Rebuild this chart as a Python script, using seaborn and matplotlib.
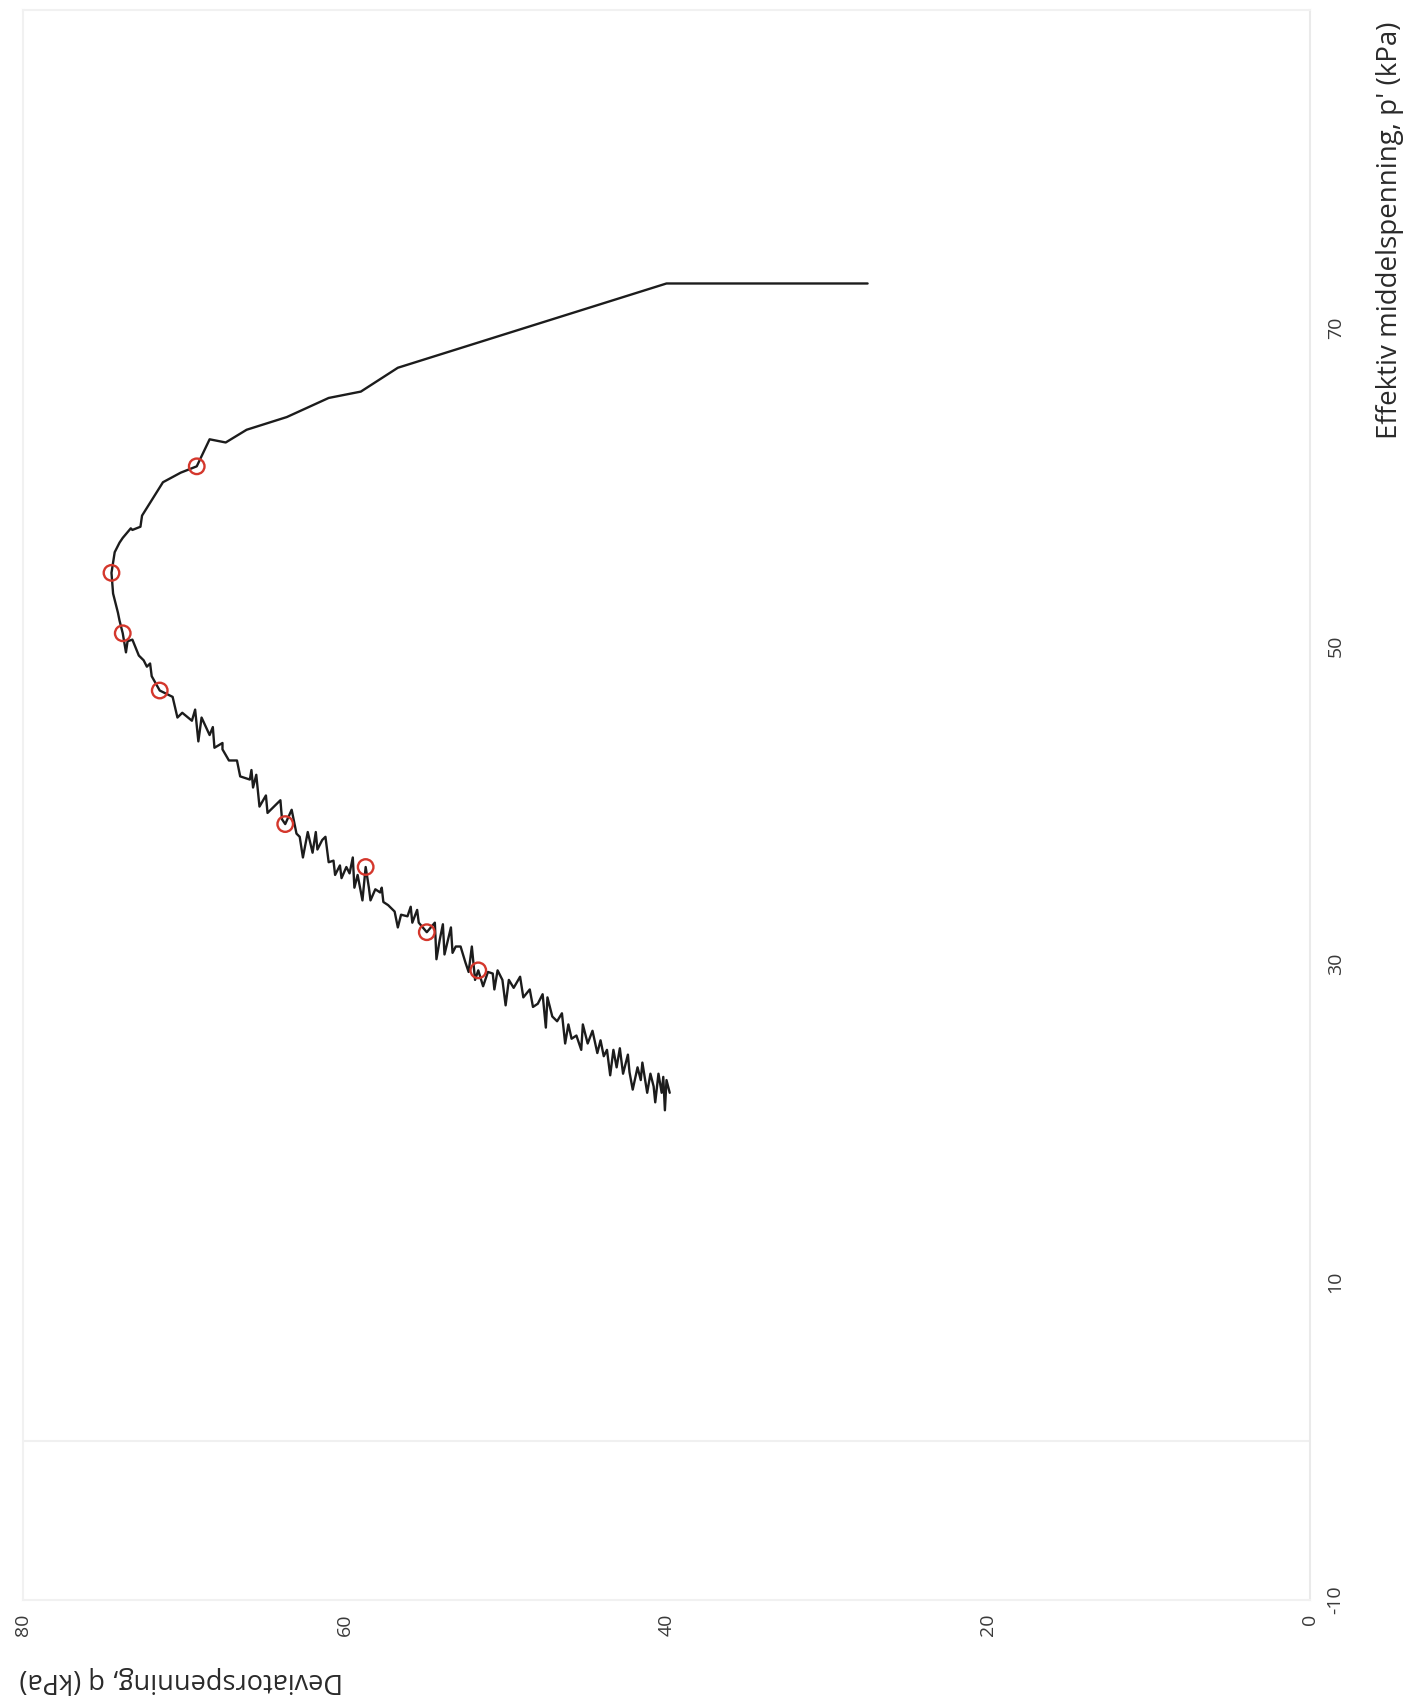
import matplotlib
matplotlib.use("Agg")
import matplotlib.pyplot as plt
import seaborn as sns
import pandas as pd

# Stress path of the triaxial test: deviator stress q and effective mean stress p' (kPa)
q_kpa = [
    27.5, 40.0, 56.7, 59.0, 61.0, 63.6, 66.1, 67.4, 68.4, 69.2,
    70.2, 71.3, 72.1, 72.6, 72.7, 73.2, 73.3, 73.8, 74.0, 74.3,
    74.5, 74.4, 74.1, 74.0, 73.8, 73.6, 73.5, 73.2, 72.8, 72.5,
    72.3, 72.1, 72.0, 71.5,
    70.7, 70.4, 70.1, 69.5, 69.3, 69.1, 68.9, 68.4, 68.2, 68.1,
    67.6, 67.6, 67.2, 66.7, 66.5, 65.9, 65.8, 65.7, 65.5, 65.3,
    64.9, 64.8, 64.4, 64.0, 63.9, 63.7, 63.3, 63.0, 62.8, 62.6,
    62.3, 62.0, 61.8, 61.7, 61.4, 61.2, 61.0, 60.7, 60.6, 60.3,
    60.2, 59.9, 59.7, 59.5, 59.4, 59.2, 58.9, 58.7,
    58.5, 58.4, 58.1, 57.8, 57.7, 57.6, 57.3, 56.9, 56.7, 56.5,
    56.1, 55.9, 55.8, 55.5, 55.4, 54.9, 54.4, 54.3, 54.1, 53.9,
    53.8, 53.4, 53.3, 53.1, 52.8, 52.5, 52.3, 52.1, 51.9, 51.7,
    51.4, 51.1, 50.8, 50.7, 50.5, 50.2, 50.0, 49.8, 49.5, 49.1,
    48.9, 48.5, 48.3, 48.0, 47.7, 47.5, 47.4, 47.1, 46.8, 46.5,
    46.3, 46.1, 45.9, 45.6, 45.3, 45.2, 44.9, 44.6, 44.3, 44.1,
    43.9, 43.7, 43.5, 43.3, 43.1, 42.9, 42.7, 42.4, 42.3, 42.1,
    41.8, 41.6, 41.5, 41.2, 41.0, 40.8, 40.7, 40.5, 40.3, 40.2,
    40.1, 40.0, 39.8,
]
p_kpa = [
    72.8, 72.8, 67.5, 66.0, 65.6, 64.4, 63.6, 62.8, 63.0, 61.3,
    60.9, 60.3, 59.0, 58.2, 57.5, 57.3, 57.4, 56.8, 56.5, 55.9,
    54.6, 53.3, 52.1, 51.6, 50.8, 49.6, 50.3, 50.4, 49.4, 49.1,
    48.7, 48.9, 48.1, 47.2,
    46.8, 45.5, 45.8, 45.3, 46.0, 44.0, 45.5, 44.4, 44.9, 43.6,
    43.9, 43.5, 42.8, 42.8, 41.8, 41.6, 42.2, 41.1, 41.9, 39.9,
    40.6, 39.5, 39.9, 40.3, 39.1, 38.8, 39.7, 38.2, 38.0, 36.7,
    38.3, 37.0, 38.3, 37.2, 37.8, 38.0, 36.4, 36.5, 35.6, 36.2,
    35.4, 36.1, 35.7, 36.7, 34.8, 35.6, 34.0, 36.1,
    34.8, 34.0, 34.7, 34.5, 34.8, 33.9, 33.7, 33.3, 32.3, 33.1,
    33.0, 33.6, 32.6, 33.4, 32.6, 32.0, 32.6, 30.3, 31.5, 32.5,
    30.6, 32.3, 30.7, 31.1, 31.1, 30.1, 29.5, 31.1, 29.0, 29.6,
    28.6, 29.5, 29.4, 28.4, 29.6, 29.0, 27.4, 29.0, 28.5, 29.2,
    27.9, 28.4, 27.3, 27.5, 28.1, 26.0, 27.9, 26.7, 26.4, 26.9,
    25.0, 26.2, 25.3, 25.5, 24.6, 26.2, 25.0, 25.8, 24.4, 25.2,
    24.2, 24.6, 23.0, 24.6, 23.5, 24.7, 23.1, 24.3, 23.2, 22.1,
    23.5, 22.7, 23.8, 21.9, 23.1, 22.3, 21.3, 23.1, 21.9, 22.9,
    20.8, 22.7, 21.9,
]

# Marked strain levels along the path
mark_q = [69.2, 74.5, 73.8, 71.5, 63.7, 58.7, 54.9, 51.7]
mark_p = [61.3, 54.6, 50.8, 47.2, 38.8, 36.1, 32.0, 29.6]

q_ticks = [0, 20, 40, 60, 80]
p_ticks = [-10, 10, 30, 50, 70]

q_label = "Deviatorspenning, q (kPa)"
p_label = "Effektiv middelspenning, p' (kPa)"

sns.set_theme(style="white")
plt.rcParams["font.family"] = ["Open Sans", "DejaVu Sans"]
plt.rcParams["axes.unicode_minus"] = False

path = pd.DataFrame({"q": q_kpa, "p": p_kpa})
marks = pd.DataFrame({"q": mark_q, "p": mark_p})

fig = plt.figure(figsize=(14.10, 16.97), dpi=100)
W, H = 1410, 1697
left, right, top, bottom = 23, 1310, 10, 1600
ax = fig.add_axes([left / W, 1 - bottom / H, (right - left) / W, (bottom - top) / H])

# The sheet is turned a quarter turn: q runs right-to-left, p' runs upward
sns.lineplot(data=path, x="q", y="p", sort=False, estimator=None,
             color="#1c1c1c", linewidth=1.7, ax=ax)
sns.scatterplot(data=marks, x="q", y="p", marker="o", s=125,
                facecolor="none", edgecolor="#d4372c", linewidth=1.7,
                ax=ax, zorder=3)

ax.set_xlim(80, 0)
ax.set_ylim(-10, 90)
ax.axhline(0, color="#f0f0f0", linewidth=1.5, zorder=0)

ax.set_xticks(q_ticks)
ax.set_yticks(p_ticks)
ax.yaxis.tick_right()
ax.tick_params(axis="x", labelrotation=90, length=0, pad=10,
               labelsize=14, labelcolor="#3a3a3a")
ax.tick_params(axis="y", labelrotation=90, length=0, pad=12,
               labelsize=14, labelcolor="#3a3a3a")
for lab in ax.get_yticklabels():
    lab.set_verticalalignment("center")
ax.set_xlabel("")
ax.set_ylabel("")

for side, spine in ax.spines.items():
    spine.set_visible(True)
    spine.set_color("#f1f1f1" if side != "right" else "#eaeaea")
    spine.set_linewidth(1.5)

fig.text(1390 / W, 1 - 230 / H, p_label, rotation=90, ha="center",
         va="center", fontsize=20, color="#2a2a2a")
fig.text(181 / W, 1 - 1680 / H, q_label, rotation=180, ha="center",
         va="center", fontsize=19.5, color="#2a2a2a")

fig.savefig("out.png", dpi=100, facecolor="white")
